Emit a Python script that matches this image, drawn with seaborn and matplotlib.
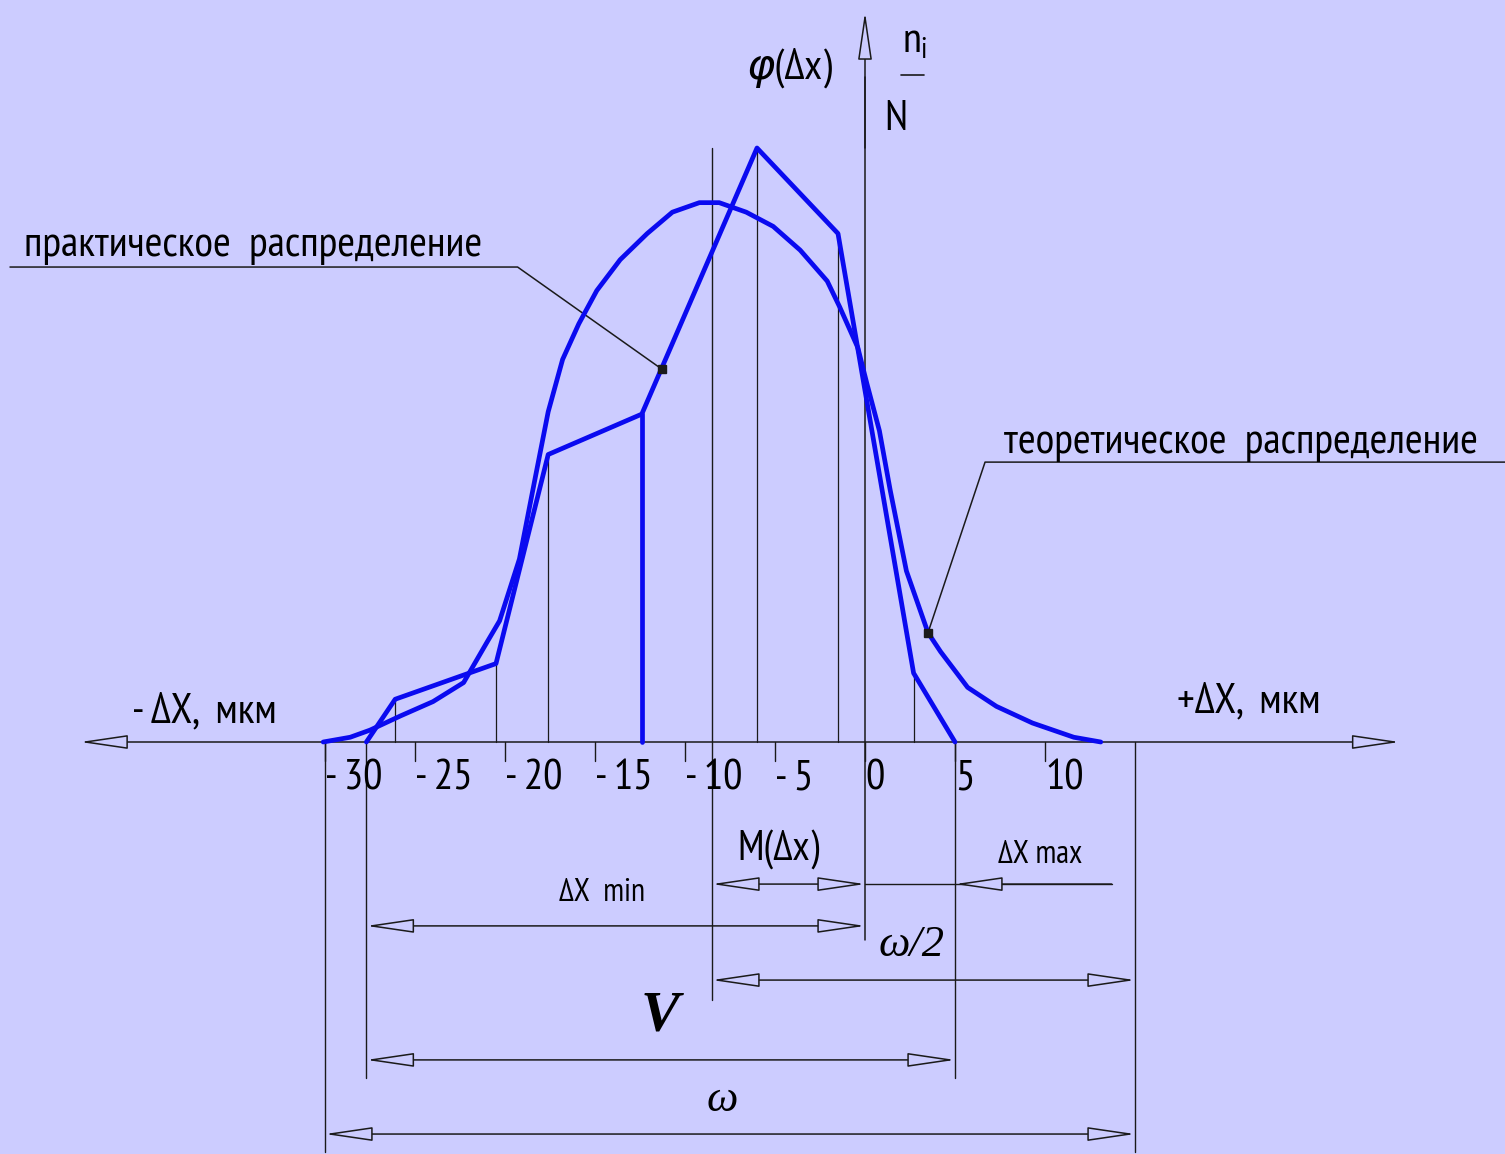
import matplotlib
matplotlib.use("Agg")
import matplotlib.pyplot as plt
from matplotlib import font_manager
import numpy as np
import pandas as pd
import seaborn as sns

# ---------------------------------------------------------------- data
# practical (empirical) distribution polygon: deviation, mkm  /  n_i / N
prac_x = [-27.7, -26.1, -20.5, -17.6, -12.4, -6.0, -1.5, 2.7, 5.0]
prac_y = [0.0, 0.018, 0.033, 0.121, 0.138, 0.250, 0.214, 0.029, 0.0]

# theoretical distribution curve phi(dx)
theo_x = [-30.1, -28.6, -27.5, -25.8, -24.0, -22.3, -21.0, -20.3, -19.2,
          -18.3, -17.6, -16.8, -15.9, -14.9, -13.6, -12.1, -10.7, -9.2,
          -8.1, -6.6, -5.1, -3.6, -2.1, -1.4, -0.4, 0.1, 0.8, 1.4, 2.3,
          3.5, 4.2, 5.7, 7.3, 9.3, 11.6, 13.1]
theo_y = [0.0, 0.002, 0.005, 0.011, 0.017, 0.025, 0.042, 0.051, 0.077,
          0.112, 0.139, 0.161, 0.176, 0.190, 0.203, 0.214, 0.223, 0.227,
          0.227, 0.223, 0.217, 0.207, 0.194, 0.183, 0.166, 0.151, 0.131,
          0.106, 0.072, 0.046, 0.038, 0.023, 0.015, 0.008, 0.002, 0.0]

tick_values = [-30, -25, -20, -15, -10, -5, 0, 5, 10]

mean_dx = -8.5                      # M(dx)
omega_lo, omega_hi = -30.0, 15.0    # field of scatter omega
leader_prac = (-11.3, 0.157)
leader_theo = (3.5, 0.046)

# ---------------------------------------------------------------- style
BG = "#CCCCFF"
BLUE = "#0A0AF0"
sns.set_theme(style="white", rc={"figure.facecolor": BG, "axes.facecolor": BG})

avail = {f.name for f in font_manager.fontManager.ttflist}
narrow_pref = ["Liberation Sans Narrow", "PT Sans Narrow", "Roboto Condensed",
               "Fira Sans Condensed", "Ubuntu Condensed", "Open Sans Condensed",
               "IBM Plex Sans Condensed", "Roboto"]
NARROW = next((n for n in narrow_pref if n in avail), "DejaVu Sans")
SERIF = "Liberation Serif" if "Liberation Serif" in avail else "DejaVu Serif"
plt.rcParams["font.family"] = [NARROW, "DejaVu Sans"]
plt.rcParams["text.color"] = "black"
plt.rcParams["mathtext.fontset"] = "custom"
plt.rcParams["mathtext.it"] = NARROW + ":italic"
plt.rcParams["mathtext.rm"] = NARROW

fig = plt.figure(figsize=(15.05, 11.54), dpi=100)
ax = fig.add_axes([0, 0, 1, 1])
ax.set_xlim(-865 / 18, (1505 - 865) / 18)
ax.set_ylim((742 - 1154) / 2376, 742 / 2376)
ax.set_axis_off()

# ---------------------------------------------------------------- curves
df_p = pd.DataFrame({"dx": prac_x, "f": prac_y})
df_t = pd.DataFrame({"dx": theo_x, "f": theo_y})
sns.lineplot(data=df_t, x="dx", y="f", sort=False, estimator=None,
             color=BLUE, lw=3.4, ax=ax, zorder=5, solid_joinstyle="round")
sns.lineplot(data=df_p, x="dx", y="f", sort=False, estimator=None,
             color=BLUE, lw=3.4, ax=ax, zorder=5, solid_joinstyle="round")
# tall step of the empirical polygon
ax.plot([prac_x[4], prac_x[4]], [0, prac_y[4]], color=BLUE, lw=3.4, zorder=5)

# thin ordinates under the polygon vertices
for xv, yv in zip(prac_x[1:-1], prac_y[1:-1]):
    if xv == prac_x[4]:
        continue
    ax.plot([xv, xv], [0, yv], color="k", lw=0.9, zorder=3)

# ---------------------------------------------------------------- axes
def arrow(x0, y0, x1, y1, style="-|>"):
    ax.annotate("", xy=(x1, y1), xytext=(x0, y0),
                arrowprops=dict(arrowstyle=style + ",head_length=1.5,head_width=0.22",
                                fc=BG, ec="k", lw=1.1, shrinkA=0, shrinkB=0,
                                mutation_scale=20), zorder=4)

arrow(-43.6, 0, 29.7, 0, "<|-|>")
ax.plot([0, 0], [-0.0833, 0.28], color="k", lw=1.1)
arrow(0, 0.25, 0, 0.3072)

for t in tick_values:
    ax.plot([t, t], [0, -0.008], color="k", lw=1.0)
    lab = f"- {abs(t)}" if t < 0 else f"{t}"
    ax.text(t, -0.0155, lab, ha="left", va="center", fontsize=31,
            style="italic")

# ---------------------------------------------------------------- dimension lines
ext = [(omega_lo, -0.1726), (prac_x[0], -0.1414), (prac_x[-1], -0.1414),
       (omega_hi, -0.1726)]
for xv, yb in ext:
    ax.plot([xv, xv], [0, yb], color="k", lw=1.0)
ax.plot([mean_dx, mean_dx], [-0.1086, 0.25], color="k", lw=1.0)

arrow(mean_dx, -0.0598, 0, -0.0598, "<|-|>")
ax.plot([0, 13.7], [-0.0598, -0.0598], color="k", lw=1.0)
arrow(13.7, -0.0598, prac_x[-1], -0.0598)
arrow(prac_x[0], -0.0774, 0, -0.0774, "<|-|>")
arrow(mean_dx, -0.1002, omega_hi, -0.1002, "<|-|>")
arrow(prac_x[0], -0.1338, prac_x[-1], -0.1338, "<|-|>")
arrow(omega_lo, -0.165, omega_hi, -0.165, "<|-|>")

# ---------------------------------------------------------------- labels
ax.text(-4.17, 0.2837, "φ(Δx)", ha="center", va="center", fontsize=31,
        style="italic")
ax.text(2.75, 0.2945, "$n_i$", ha="center", va="center", fontsize=31)
ax.plot([2.0, 3.3], [0.2807, 0.2807], color="k", lw=1.2)
ax.text(1.7, 0.2618, "N", ha="center", va="center", fontsize=31,
        style="italic")

ax.text(-36.7, 0.0126, "- ΔX,  мкм", ha="center", va="center", fontsize=31)
ax.text(21.3, 0.0168, "+ΔX,  мкм", ha="center", va="center", fontsize=31)

ax.text(-4.83, -0.0455, "M(Δx)", ha="center", va="center", fontsize=30,
        style="italic")
ax.text(9.7, -0.0476, "ΔX max", ha="center", va="center", fontsize=23,
        style="italic")
ax.text(-14.6, -0.0636, "ΔX  min", ha="center", va="center", fontsize=23,
        style="italic")
ax.text(2.6, -0.0854, "ω/2", ha="center", va="center", fontsize=32,
        style="italic", family=SERIF)
ax.text(-11.4, -0.1157, "V", ha="center", va="center", fontsize=42,
        style="italic", weight="bold", family=SERIF)
ax.text(-7.94, -0.1507, "ω", ha="center", va="center", fontsize=32,
        style="italic", family=SERIF)

# leaders
ax.text(-46.7, 0.2045, "практическое  распределение", ha="left",
        va="baseline", fontsize=31, style="italic")
ax.plot([-47.5, -19.3, leader_prac[0]], [0.1999, 0.1999, leader_prac[1]],
        color="k", lw=1.1)
ax.plot(*leader_prac, marker="s", ms=6, color="k", zorder=6)

ax.text(7.7, 0.1215, "теоретическое  распределение", ha="left",
        va="baseline", fontsize=31, style="italic")
ax.plot([35.6, 6.67, leader_theo[0]], [0.1178, 0.1178, leader_theo[1]],
        color="k", lw=1.1)
ax.plot(*leader_theo, marker="s", ms=6, color="k", zorder=6)

fig.savefig("out.png", dpi=100, facecolor=BG)
